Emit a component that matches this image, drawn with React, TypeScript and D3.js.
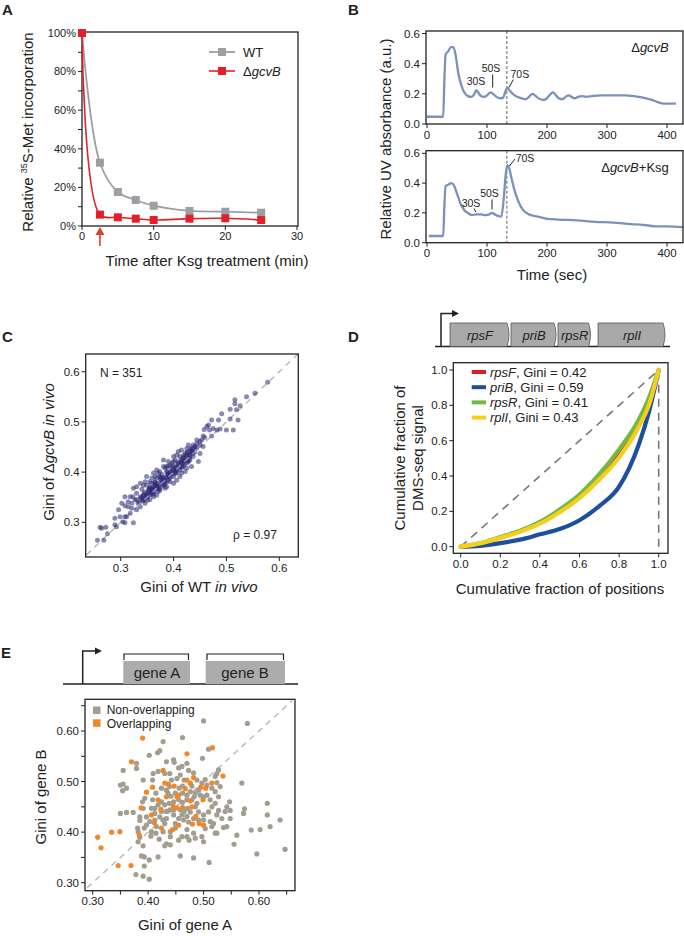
import React from "react";
import * as d3 from "d3";

const FONT = "'Liberation Sans', Arial, Helvetica, sans-serif";
const AX = "#222";

// ---------------- Panel A data ----------------
const timeA = [0, 2.5, 5, 7.5, 10, 15, 20, 25];
const wtIncorp = [100, 32.8, 17.6, 13.5, 10.5, 7.8, 7.4, 6.9];
const gcvbIncorp = [100, 5.9, 4.5, 3.8, 3.1, 3.8, 4.0, 3.1];
const pctTicksA = [0, 20, 40, 60, 80, 100];
const pctMinorA = [10, 30, 50, 70, 90];
const timeTicksA = [0, 10, 20, 30];
const ksgTimeA = 2.5;

// ---------------- Panel B data ----------------
const timeB1 = [0, 27, 29, 31, 35, 40, 44, 48, 52, 57, 62, 68, 74, 79, 82, 85, 90, 95, 100, 106, 110, 116, 122, 127, 131, 134, 138, 143, 150, 158, 165, 170, 176, 180, 186, 193, 198, 204, 210, 215, 220, 226, 231, 236, 241, 246, 252, 258, 265, 275, 290, 310, 330, 345, 360, 375, 385, 395, 415];
const absB1 = [0.048, 0.048, 0.3, 0.46, 0.48, 0.51, 0.51, 0.45, 0.34, 0.26, 0.21, 0.185, 0.18, 0.2, 0.225, 0.21, 0.185, 0.18, 0.19, 0.21, 0.2, 0.18, 0.17, 0.175, 0.22, 0.24, 0.22, 0.2, 0.18, 0.17, 0.165, 0.18, 0.2, 0.19, 0.17, 0.16, 0.165, 0.19, 0.21, 0.19, 0.17, 0.165, 0.18, 0.19, 0.18, 0.17, 0.18, 0.185, 0.18, 0.185, 0.19, 0.19, 0.19, 0.185, 0.175, 0.16, 0.145, 0.135, 0.135];
const timeB2 = [3, 27, 29, 31, 36, 40, 44, 50, 56, 62, 68, 75, 82, 90, 98, 104, 108, 113, 118, 124, 128, 131, 134, 137, 141, 146, 152, 160, 170, 178, 185, 200, 220, 250, 280, 310, 340, 360, 380, 400, 427];
const absB2 = [0.045, 0.045, 0.25, 0.38, 0.39, 0.4, 0.39, 0.33, 0.26, 0.22, 0.2, 0.185, 0.19, 0.19, 0.185, 0.19, 0.2, 0.19, 0.18, 0.175, 0.3, 0.45, 0.52, 0.5, 0.43, 0.35, 0.28, 0.22, 0.19, 0.18, 0.175, 0.16, 0.155, 0.15, 0.14, 0.135, 0.125, 0.12, 0.11, 0.11, 0.105];
const timeTicksB = [0, 100, 200, 300, 400];
const absTicksB = [0, 0.2, 0.4, 0.6];
const peak70S = 133;

// ---------------- Panel C data ----------------
const giniWT = [0.578,0.554,0.538,0.516,0.526,0.507,0.519,0.516,0.491,0.485,0.472,0.522,0.466,0.463,0.475,0.488,0.456,0.459,0.444,0.441,0.425,0.434,0.425,0.431,0.415,0.415,0.406,0.4,0.39,0.381,0.387,0.374,0.368,0.362,0.352,0.359,0.343,0.337,0.324,0.327,0.314,0.308,0.296,0.289,0.299,0.324,0.308,0.318,0.261,0.272,0.275,0.256,0.268,0.264,0.289,0.292,0.304,0.311,0.337,0.346,0.355,0.368,0.374,0.384,0.39,0.4,0.406,0.412,0.418,0.425,0.431,0.437,0.45,0.444,0.437,0.412,0.403,0.393,0.384,0.374,0.365,0.355,0.349,0.34,0.33,0.323,0.314,0.321,0.33,0.343,0.355,0.368,0.381,0.393,0.406,0.418,0.428,0.437,0.415,0.403,0.39,0.378,0.365,0.352,0.343,0.333,0.33,0.349,0.362,0.368,0.45,0.456,0.381,0.387,0.4,0.412,0.422,0.434,0.447,0.45,0.468,0.472,0.482,0.5,0.513,0.507,0.458,0.453,0.428,0.434,0.422,0.409,0.4,0.39,0.371,0.359,0.346,0.337,0.318,0.308,0.302,0.321,0.308,0.362,0.371,0.384,0.393,0.406,0.415,0.425,0.397,0.387,0.365,0.36,0.37,0.38,0.39,0.4,0.41,0.42,0.35,0.34,0.33,0.345,0.355,0.375,0.395,0.405,0.415,0.425,0.435,0.44,0.385,0.365,0.35,0.36,0.37,0.38,0.42,0.43,0.398,0.378,0.358,
  0.335,0.338,0.342,0.348,0.352,0.356,0.36,0.363,0.366,0.372,0.376,0.379,0.382,0.386,0.389,0.392,0.396,0.399,0.402,0.405,0.408,0.411,0.414,0.417,0.42,0.423,0.426,0.429,0.432,0.436,0.44,0.443,0.346,0.357,0.368,0.377,0.388,0.398,0.409,0.419,0.43,0.35,0.362,0.373,0.383,0.394,0.404,0.416,0.427,0.344,0.354,0.364,0.375];
const giniGcvB = [0.579,0.557,0.55,0.544,0.532,0.525,0.524,0.536,0.516,0.504,0.504,0.504,0.494,0.491,0.487,0.486,0.472,0.469,0.457,0.451,0.447,0.441,0.432,0.424,0.421,0.444,0.434,0.421,0.421,0.411,0.401,0.391,0.388,0.371,0.364,0.358,0.354,0.351,0.368,0.345,0.341,0.333,0.325,0.308,0.311,0.299,0.299,0.318,0.29,0.29,0.277,0.264,0.264,0.288,0.295,0.291,0.301,0.311,0.331,0.338,0.345,0.354,0.364,0.376,0.384,0.391,0.398,0.404,0.411,0.418,0.432,0.437,0.454,0.464,0.454,0.431,0.424,0.414,0.408,0.401,0.391,0.381,0.374,0.366,0.358,0.351,0.331,0.338,0.371,0.374,0.368,0.378,0.388,0.398,0.411,0.428,0.421,0.431,0.411,0.401,0.391,0.378,0.368,0.354,0.345,0.338,0.325,0.391,0.398,0.404,0.437,0.451,0.424,0.371,0.378,0.391,0.401,0.411,0.421,0.461,0.484,0.472,0.484,0.484,0.484,0.506,0.485,0.464,0.454,0.448,0.438,0.441,0.431,0.411,0.398,0.388,0.381,0.378,0.351,0.351,0.338,0.328,0.311,0.351,0.361,0.368,0.381,0.384,0.398,0.408,0.418,0.411,0.381,0.365,0.372,0.383,0.395,0.405,0.415,0.422,0.357,0.35,0.345,0.36,0.37,0.385,0.402,0.408,0.425,0.435,0.445,0.44,0.39,0.375,0.35,0.36,0.368,0.375,0.415,0.428,0.412,0.395,0.378,
  0.34,0.347,0.343,0.352,0.36,0.355,0.368,0.362,0.372,0.37,0.38,0.372,0.386,0.382,0.394,0.388,0.4,0.396,0.41,0.403,0.417,0.408,0.42,0.418,0.43,0.425,0.44,0.435,0.445,0.44,0.45,0.447,0.349,0.364,0.376,0.388,0.4,0.407,0.42,0.433,0.44,0.344,0.356,0.366,0.379,0.39,0.398,0.41,0.422,0.356,0.366,0.38,0.39];
const giniTicksC = [0.3, 0.4, 0.5, 0.6];

// ---------------- Panel D data ----------------
const geneNamesD = ["rpsF", "priB", "rpsR", "rplI"];
const giniD = [0.42, 0.59, 0.41, 0.43];
const lorenzX = [0, 0.1, 0.2, 0.3, 0.4, 0.5, 0.6, 0.7, 0.8, 0.9, 0.95, 1.0];
const lorenzRpsF = [0, 0.02, 0.05, 0.09, 0.135, 0.2, 0.285, 0.39, 0.52, 0.69, 0.81, 1.0];
const lorenzPriB = [0, 0.005, 0.02, 0.04, 0.07, 0.1, 0.15, 0.23, 0.34, 0.58, 0.76, 1.0];
const lorenzRpsR = [0, 0.02, 0.055, 0.09, 0.14, 0.21, 0.295, 0.41, 0.55, 0.72, 0.84, 1.0];
const lorenzRplI = [0, 0.02, 0.05, 0.085, 0.13, 0.195, 0.275, 0.38, 0.505, 0.68, 0.8, 1.0];
const fracTicksD = [0, 0.2, 0.4, 0.6, 0.8, 1.0];

// ---------------- Panel E data ----------------
const ovGeneA = [0.309,0.315,0.334,0.349,0.346,0.369,0.37,0.39,0.387,0.384,0.397,0.408,0.411,0.418,0.423,0.427,0.43,0.436,0.433,0.447,0.445,0.452,0.455,0.444,0.455,0.462,0.47,0.467,0.47,0.476,0.482,0.476,0.479,0.48,0.486,0.492,0.5,0.499,0.495,0.504,0.516,0.515,0.535,0.452,0.424,0.406];
const ovGeneB = [0.39,0.369,0.4,0.401,0.334,0.334,0.539,0.586,0.448,0.394,0.479,0.489,0.419,0.464,0.445,0.522,0.497,0.495,0.47,0.491,0.452,0.47,0.473,0.405,0.414,0.449,0.555,0.486,0.503,0.497,0.508,0.462,0.45,0.416,0.431,0.417,0.414,0.464,0.489,0.487,0.567,0.497,0.511,0.448,0.408,0.434];
const nonGeneA = [0.5,0.579,0.462,0.427,0.509,0.421,0.417,0.402,0.379,0.355,0.379,0.35,0.355,0.361,0.354,0.391,0.35,0.361,0.373,0.381,0.382,0.385,0.382,0.391,0.388,0.393,0.393,0.378,0.391,0.402,0.402,0.418,0.43,0.44,0.458,0.482,0.51,0.524,0.536,0.542,0.548,0.542,0.547,0.56,0.555,0.569,0.572,0.574,0.586,0.602,0.615,0.615,0.62,0.596,0.638,0.647,0.527,0.524,0.53,0.521,0.498,0.503,0.47,0.461,0.446,0.447,0.455,0.433,0.43,0.409,0.418,0.408,0.394,0.39,0.391,0.397,0.403,0.406,0.414,0.415,0.427,0.44,0.449,0.461,0.47,0.482,0.485,0.497,0.5,0.44,0.433,0.42,0.405,0.446,0.433,0.427,0.421,0.412,0.406,0.408,0.414,0.424,0.433,0.442,0.439,0.452,0.458,0.465,0.462,0.456,0.449,0.441,0.462,0.47,0.476,0.485,0.491,0.494,0.5,0.506,0.512,0.515,0.509,0.5,0.491,0.485,0.488,0.476,0.47,0.461,0.455,0.464,0.473,0.482,0.491,0.5,0.512,0.518,0.524,0.527,0.521,0.527,0.521,0.515,0.506,0.497,0.488,0.479,0.47,0.462,0.455,0.446,0.438,0.43,0.424,0.418,0.412,0.424,0.433,0.439,0.446,0.458,0.465,0.471,0.479,0.483,0.397,0.393,0.412,0.47,0.474,0.455,0.449,0.43,0.503,0.515,0.539,0.533,0.548,0.521,0.524,0.482,0.473,0.385,0.385,0.436,0.439];
const nonGeneB = [0.62,0.615,0.587,0.579,0.564,0.561,0.557,0.552,0.536,0.522,0.526,0.493,0.495,0.487,0.482,0.503,0.437,0.439,0.439,0.408,0.401,0.39,0.381,0.373,0.353,0.351,0.333,0.316,0.313,0.307,0.345,0.351,0.373,0.375,0.353,0.349,0.34,0.398,0.409,0.411,0.427,0.45,0.46,0.394,0.376,0.497,0.437,0.446,0.404,0.405,0.457,0.434,0.411,0.357,0.424,0.366,0.523,0.498,0.49,0.51,0.546,0.504,0.536,0.53,0.543,0.538,0.527,0.539,0.516,0.516,0.52,0.503,0.467,0.46,0.447,0.43,0.421,0.401,0.398,0.411,0.401,0.401,0.417,0.391,0.405,0.398,0.388,0.391,0.381,0.391,0.377,0.386,0.392,0.434,0.427,0.424,0.43,0.437,0.447,0.464,0.477,0.487,0.483,0.503,0.49,0.506,0.513,0.503,0.491,0.487,0.477,0.471,0.477,0.473,0.48,0.477,0.483,0.473,0.47,0.473,0.464,0.45,0.44,0.434,0.44,0.45,0.457,0.44,0.431,0.434,0.427,0.424,0.42,0.427,0.424,0.424,0.421,0.417,0.434,0.443,0.457,0.47,0.48,0.487,0.493,0.497,0.503,0.491,0.464,0.459,0.464,0.46,0.457,0.454,0.46,0.454,0.447,0.441,0.441,0.444,0.444,0.444,0.441,0.447,0.464,0.47,0.414,0.408,0.424,0.391,0.384,0.384,0.408,0.417,0.407,0.411,0.441,0.427,0.443,0.398,0.516,0.517,0.522,0.43,0.423,0.477,0.516];
const giniTicksE = [0.3, 0.4, 0.5, 0.6];
const giniMinorE = [0.35, 0.45, 0.55, 0.65];
const groupNamesE = ["Non-overlapping", "Overlapping"];

// ---------------- helpers ----------------
type Sc = (v: number) => number;

function LeftAxis({ scale, ticks, x, fmt, len = 4, fs = 11.5 }: { scale: Sc; ticks: number[]; x: number; fmt?: (v: number) => string; len?: number; fs?: number }) {
  return (
    <g>
      {ticks.map((t) => (
        <g key={t}>
          <line x1={x - len} x2={x} y1={scale(t)} y2={scale(t)} stroke={AX} strokeWidth={1} />
          {fmt && (
            <text x={x - len - 2} y={scale(t)} dy="0.35em" textAnchor="end" fontSize={fs} fill="#222">
              {fmt(t)}
            </text>
          )}
        </g>
      ))}
    </g>
  );
}

function BottomAxis({ scale, ticks, y, fmt, len = 4, fs = 11.5, gap = 2 }: { scale: Sc; ticks: number[]; y: number; fmt?: (v: number) => string; len?: number; fs?: number; gap?: number }) {
  return (
    <g>
      {ticks.map((t) => (
        <g key={t}>
          <line x1={scale(t)} x2={scale(t)} y1={y} y2={y + len} stroke={AX} strokeWidth={1} />
          {fmt && (
            <text x={scale(t)} y={y + len + gap + fs * 0.75} textAnchor="middle" fontSize={fs} fill="#222">
              {fmt(t)}
            </text>
          )}
        </g>
      ))}
    </g>
  );
}

function Box({ x0, x1, y0, y1 }: { x0: number; x1: number; y0: number; y1: number }) {
  return <rect x={x0} y={y0} width={x1 - x0} height={y1 - y0} fill="none" stroke={AX} strokeWidth={1.3} />;
}

// ---------------- Panel A ----------------
function PanelA() {
  const xA = d3.scaleLinear().domain([0, 30]).range([82, 297]);
  const yA = d3.scaleLinear().domain([0, 100]).range([226, 33]);
  const mk = (vals: number[]) =>
    d3
      .line<number>()
      .x((_, i) => xA(timeA[i]))
      .y((d) => yA(d))
      .curve(d3.curveCatmullRom.alpha(0.5))(vals) as string;
  const gray = "#9b9ea2";
  const red = "#e3202a";
  const ax = xA(ksgTimeA);
  return (
    <g>
      <Box x0={82} x1={298} y0={32} y1={226} />
      <LeftAxis scale={yA} ticks={pctTicksA} x={82} fmt={(v) => `${v}%`} fs={11} />
      <LeftAxis scale={yA} ticks={pctMinorA} x={82} />
      <BottomAxis scale={xA} ticks={timeTicksA} y={226} fmt={(v) => `${v}`} fs={11} />
      <path d={mk(wtIncorp)} fill="none" stroke={gray} strokeWidth={1.8} />
      <path d={mk(gcvbIncorp)} fill="none" stroke={red} strokeWidth={1.6} />
      {wtIncorp.map((v, i) => (
        <rect key={"w" + i} x={xA(timeA[i]) - 4} y={yA(v) - 4} width={8} height={8} fill={gray} />
      ))}
      {gcvbIncorp.map((v, i) => (
        <rect key={"g" + i} x={xA(timeA[i]) - 4} y={yA(v) - 4} width={8} height={8} fill={red} />
      ))}
      {/* legend */}
      <line x1={209} x2={235} y1={52} y2={52} stroke={gray} strokeWidth={1.8} />
      <rect x={218} y={48} width={8} height={8} fill={gray} />
      <text x={243} y={52} dy="0.35em" fontSize={13}>WT</text>
      <line x1={209} x2={235} y1={71} y2={71} stroke={red} strokeWidth={1.6} />
      <rect x={218} y={67} width={8} height={8} fill={red} />
      <text x={243} y={71} dy="0.35em" fontSize={13}>
        Δ<tspan fontStyle="italic">gcvB</tspan>
      </text>
      {/* Ksg arrow */}
      <line x1={ax} x2={ax} y1={246} y2={233} stroke="#d9412b" strokeWidth={1.6} />
      <path d={`M${ax - 4.5},235 L${ax + 4.5},235 L${ax},227 Z`} fill="#d9412b" />
      {/* labels */}
      <text transform="translate(33,132) rotate(-90)" textAnchor="middle" fontSize={15}>
        Relative <tspan fontSize={9} dy={-6}>35</tspan>
        <tspan dy={6}>S-Met incorporation</tspan>
      </text>
      <text x={207} y={266} textAnchor="middle" fontSize={15}>Time after Ksg treatment (min)</text>
      <text x={2} y={15} fontSize={15} fontWeight="bold">A</text>
    </g>
  );
}

// ---------------- Panel B ----------------
function PanelB() {
  const xB = d3.scaleLinear().domain([0, 400]).range([427, 667]);
  const yT = d3.scaleLinear().domain([0, 0.6]).range([124, 33.5]);
  const yBm = d3.scaleLinear().domain([0, 0.6]).range([242.7, 153.3]);
  const lineT = d3
    .line<number>()
    .x((_, i) => xB(timeB1[i]))
    .y((d) => yT(d))
    .curve(d3.curveMonotoneX)(absB1) as string;
  const lineB = d3
    .line<number>()
    .x((_, i) => xB(timeB2[i]))
    .y((d) => yBm(d))
    .curve(d3.curveMonotoneX)(absB2) as string;
  const traceCol = "#7a92bb";
  const px = xB(peak70S);
  const fmt = (v: number) => v.toFixed(1);
  return (
    <g>
      <defs>
        <clipPath id="clipBt">
          <rect x={426} y={31} width={257} height={93} />
        </clipPath>
        <clipPath id="clipBb">
          <rect x={426} y={150.7} width={257} height={92} />
        </clipPath>
      </defs>
      {/* top */}
      <line x1={px} x2={px} y1={31} y2={124} stroke="#888" strokeWidth={1.3} strokeDasharray="3,2" />
      <path d={lineT} fill="none" stroke={traceCol} strokeWidth={2.3} clipPath="url(#clipBt)" />
      <Box x0={426} x1={683} y0={31} y1={124} />
      <LeftAxis scale={yT} ticks={absTicksB} x={426} fmt={fmt} />
      <BottomAxis scale={xB} ticks={timeTicksB} y={124} fmt={(v) => `${v}`} />
      <text x={476} y={84.5} textAnchor="middle" fontSize={10.5}>30S</text>
      <text x={491} y={72} textAnchor="middle" fontSize={10.5}>50S</text>
      <line x1={492.7} x2={492.7} y1={74.5} y2={87.5} stroke="#222" strokeWidth={1} />
      <text x={510.5} y={77.5} fontSize={10.5}>70S</text>
      <line x1={513.3} x2={509} y1={79.5} y2={87.5} stroke="#222" strokeWidth={1} />
      <text x={650} y={52} textAnchor="middle" fontSize={13}>
        Δ<tspan fontStyle="italic">gcvB</tspan>
      </text>
      {/* bottom */}
      <line x1={px} x2={px} y1={150.7} y2={242.7} stroke="#888" strokeWidth={1.3} strokeDasharray="3,2" />
      <path d={lineB} fill="none" stroke={traceCol} strokeWidth={2.3} clipPath="url(#clipBb)" />
      <Box x0={426} x1={683} y0={150.7} y1={242.7} />
      <LeftAxis scale={yBm} ticks={absTicksB} x={426} fmt={fmt} />
      <BottomAxis scale={xB} ticks={timeTicksB} y={242.7} fmt={(v) => `${v}`} />
      <text x={515.7} y={162} fontSize={10.5}>70S</text>
      <line x1={515} x2={509.3} y1={159} y2={166} stroke="#222" strokeWidth={1} />
      <text x={489.5} y={197} textAnchor="middle" fontSize={10.5}>50S</text>
      <line x1={492} x2={492} y1={199.5} y2={209.5} stroke="#222" strokeWidth={1} />
      <text x={471} y={207.3} textAnchor="middle" fontSize={10.5}>30S</text>
      <line x1={474} x2={476} y1={208.5} y2={212} stroke="#222" strokeWidth={1} />
      <text x={635} y={172} textAnchor="middle" fontSize={13}>
        Δ<tspan fontStyle="italic">gcvB</tspan>+Ksg
      </text>
      <text transform="translate(391,139) rotate(-90)" textAnchor="middle" fontSize={15}>
        Relative UV absorbance (a.u.)
      </text>
      <text x={552} y={280} textAnchor="middle" fontSize={15}>Time (sec)</text>
      <text x={348} y={15} fontSize={15} fontWeight="bold">B</text>
    </g>
  );
}

// ---------------- Panel C ----------------
function PanelC() {
  const xC = d3.scaleLinear().domain([0.3, 0.6]).range([120.7, 279.3]);
  const yC = d3.scaleLinear().domain([0.3, 0.6]).range([522.3, 371.7]);
  const fmt = (v: number) => v.toFixed(1);
  return (
    <g>
      <line x1={xC(0.235)} y1={yC(0.235)} x2={xC(0.635)} y2={yC(0.635)} stroke="#bbb" strokeWidth={1.5} strokeDasharray="6,5" />
      {giniWT.map((v, i) => (
        <circle key={i} cx={xC(v)} cy={yC(giniGcvB[i])} r={2.5} fill="#2a2872" fillOpacity={0.55} />
      ))}
      <line x1={xC(0.33)} y1={yC(0.33)} x2={xC(0.45)} y2={yC(0.45)} stroke="#c8c8d8" strokeOpacity={0.6} strokeWidth={1.5} strokeDasharray="6,5" />
      <Box x0={85.7} x1={298.3} y0={354} y1={557} />
      <LeftAxis scale={yC} ticks={giniTicksC} x={85.7} fmt={fmt} />
      <BottomAxis scale={xC} ticks={giniTicksC} y={557} fmt={fmt} />
      <text x={100} y={377} fontSize={12}>N = 351</text>
      <text x={233} y={539} fontSize={12}>ρ = 0.97</text>
      <text transform="translate(54,452) rotate(-90)" textAnchor="middle" fontSize={15}>
        Gini of Δ<tspan fontStyle="italic">gcvB in vivo</tspan>
      </text>
      <text x={199} y={592} textAnchor="middle" fontSize={15}>
        Gini of WT <tspan fontStyle="italic">in vivo</tspan>
      </text>
      <text x={2} y={342} fontSize={15} fontWeight="bold">C</text>
    </g>
  );
}

// ---------------- Panel D ----------------
function PanelD() {
  const xD = d3.scaleLinear().domain([0, 1]).range([460.7, 658.7]);
  const yD = d3.scaleLinear().domain([0, 1]).range([546.7, 370]);
  const series = [
    { name: geneNamesD[0], g: giniD[0], vals: lorenzRpsF, col: "#d62027", w: 3.5 },
    { name: geneNamesD[1], g: giniD[1], vals: lorenzPriB, col: "#1d4f9e", w: 4.2 },
    { name: geneNamesD[2], g: giniD[2], vals: lorenzRpsR, col: "#74b843", w: 4.2 },
    { name: geneNamesD[3], g: giniD[3], vals: lorenzRplI, col: "#f5cf1c", w: 4.2 },
  ];
  const drawOrder = [1, 0, 2, 3];
  const mk = (vals: number[]) =>
    d3
      .line<number>()
      .x((_, i) => xD(lorenzX[i]))
      .y((d) => yD(d))
      .curve(d3.curveMonotoneX)(vals) as string;
  const fmt = (v: number) => v.toFixed(1);
  const genes = [
    { n: geneNamesD[0], x0: 450, x1: 510 },
    { n: geneNamesD[1], x0: 511, x1: 557 },
    { n: geneNamesD[2], x0: 558, x1: 591.5 },
    { n: geneNamesD[3], x0: 598, x1: 666 },
  ];
  const gt = 323, gb = 346.5;
  return (
    <g>
      <line x1={435} x2={670} y1={gb} y2={gb} stroke={AX} strokeWidth={1.5} />
      {genes.map((g) => (
        <g key={g.n}>
          <path
            d={`M${g.x0},${gb} L${g.x0},${gt} L${g.x1 - 3},${gt} Q${g.x1 + 1},${(gt + gb) / 2} ${g.x1 - 3},${gb} Z`}
            fill="#a9a9a9"
            stroke="#555"
            strokeWidth={0.8}
          />
          <text x={(g.x0 + g.x1) / 2} y={340} textAnchor="middle" fontSize={13} fontStyle="italic">
            {g.n}
          </text>
        </g>
      ))}
      <path d={`M441,${gb} L441,313.5 L454,313.5`} fill="none" stroke={AX} strokeWidth={1.5} />
      <path d="M452,310 L459,313.5 L452,317 Z" fill={AX} />
      <line x1={xD(0)} y1={yD(0)} x2={xD(1)} y2={yD(1)} stroke="#777" strokeWidth={1.6} strokeDasharray="8,6" />
      <line x1={xD(1)} y1={yD(0)} x2={xD(1)} y2={yD(0.96)} stroke="#777" strokeWidth={1.6} strokeDasharray="8,6" />
      {drawOrder.map((k) => (
        <path key={k} d={mk(series[k].vals)} fill="none" stroke={series[k].col} strokeWidth={series[k].w} strokeLinecap="round" />
      ))}
      <Box x0={453.3} x1={668} y0={362.7} y1={553.3} />
      <LeftAxis scale={yD} ticks={fracTicksD} x={453.3} fmt={fmt} />
      <BottomAxis scale={xD} ticks={fracTicksD} y={553.3} fmt={fmt} />
      {series.map((s, i) => (
        <g key={s.name}>
          <line x1={471.7} x2={486} y1={372 + i * 15.2} y2={372 + i * 15.2} stroke={s.col} strokeWidth={4} />
          <text x={490} y={372 + i * 15.2} dy="0.35em" fontSize={13}>
            <tspan fontStyle="italic">{s.name}</tspan>, Gini = {s.g.toFixed(2)}
          </text>
        </g>
      ))}
      <text transform="translate(405,458) rotate(-90)" textAnchor="middle" fontSize={15}>
        Cumulative fraction of
      </text>
      <text transform="translate(423,458) rotate(-90)" textAnchor="middle" fontSize={15}>
        DMS-seq signal
      </text>
      <text x={560} y={594} textAnchor="middle" fontSize={15}>
        Cumulative fraction of positions
      </text>
      <text x={348} y={342} fontSize={15} fontWeight="bold">D</text>
    </g>
  );
}

// ---------------- Panel E ----------------
function PanelE() {
  const xE = d3.scaleLinear().domain([0.3, 0.6]).range([92.7, 259]);
  const yE = d3.scaleLinear().domain([0.3, 0.6]).range([882.7, 731]);
  const fmt = (v: number) => v.toFixed(2);
  const grayC = "#a39d8f";
  const orangeC = "#f0882a";
  const base = 684;
  return (
    <g>
      <line x1={63} x2={298} y1={base} y2={base} stroke={AX} strokeWidth={1.5} />
      <path d={`M82.7,${base} L82.7,651 L97,651`} fill="none" stroke={AX} strokeWidth={1.5} />
      <path d="M95,647.5 L102,651 L95,654.5 Z" fill={AX} />
      <rect x={123.3} y={661} width={66.7} height={23} fill="#acacac" />
      <rect x={205.7} y={661} width={79.3} height={23} fill="#acacac" />
      <path d="M124,660 L124,654 L188.5,654 L188.5,660" fill="none" stroke={AX} strokeWidth={1.2} />
      <path d="M207,660 L207,654 L283.5,654 L283.5,660" fill="none" stroke={AX} strokeWidth={1.2} />
      <text x={157} y={678} textAnchor="middle" fontSize={15}>gene A</text>
      <text x={245} y={678} textAnchor="middle" fontSize={15}>gene B</text>
      <line x1={xE(0.29)} y1={yE(0.29)} x2={xE(0.66)} y2={yE(0.66)} stroke="#bbb" strokeWidth={1.5} strokeDasharray="6,5" />
      {nonGeneA.map((v, i) => (
        <circle key={"n" + i} cx={xE(v)} cy={yE(nonGeneB[i])} r={2.6} fill={grayC} />
      ))}
      {ovGeneA.map((v, i) => (
        <circle key={"o" + i} cx={xE(v)} cy={yE(ovGeneB[i])} r={2.6} fill={orangeC} />
      ))}
      <Box x0={85} x1={295} y0={699.3} y1={890.7} />
      <LeftAxis scale={yE} ticks={giniTicksE} x={85} fmt={fmt} />
      <LeftAxis scale={yE} ticks={giniMinorE} x={85} />
      <BottomAxis scale={xE} ticks={giniTicksE} y={890.7} fmt={fmt} />
      <BottomAxis scale={xE} ticks={giniMinorE} y={890.7} />
      <rect x={93} y={706.5} width={7.5} height={7.5} fill={grayC} />
      <text x={106.7} y={714} fontSize={12}>{groupNamesE[0]}</text>
      <rect x={93} y={719.3} width={7.5} height={7.5} fill={orangeC} />
      <text x={106.7} y={727.6} fontSize={12}>{groupNamesE[1]}</text>
      <text transform="translate(46,797) rotate(-90)" textAnchor="middle" fontSize={15}>Gini of gene B</text>
      <text x={185} y={930} textAnchor="middle" fontSize={15}>Gini of gene A</text>
      <text x={1} y={658} fontSize={15} fontWeight="bold">E</text>
    </g>
  );
}

export default function App() {
  return (
    <svg
      width={684}
      height={936}
      viewBox="0 0 684 936"
      style={{ position: "absolute", left: 0, top: 0, background: "#fff", fontFamily: FONT }}
      fontFamily={FONT}
      fill="#222"
    >
      <rect x={0} y={0} width={684} height={936} fill="#fff" />
      <PanelA />
      <PanelB />
      <PanelC />
      <PanelD />
      <PanelE />
    </svg>
  );
}
